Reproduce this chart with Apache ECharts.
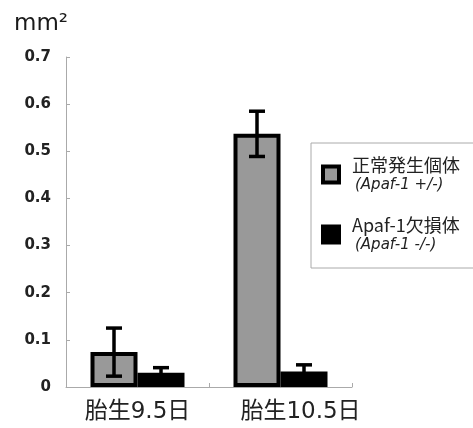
<!DOCTYPE html>
<html>
<head>
<meta charset="utf-8">
<script src="https://cdn.jsdelivr.net/npm/echarts@6/dist/echarts.min.js"></script>
<style>html,body{margin:0;padding:0;background:#fff;}#c{width:473px;height:428px;}</style>
</head>
<body>
<div id="c"></div>
<script>
const categories = ['胎生9.5日', '胎生10.5日'];
const seriesNames = ['正常発生個体', 'Apaf-1欠損体'];
const seriesSub = ['(Apaf-1 +/-)', '(Apaf-1 -/-)'];
const normalMean = [0.074, 0.537];
const normalErr = [0.051, 0.048];
const knockoutMean = [0.030, 0.033];
const knockoutErr = [0.011, 0.014];
const yTicks = [0, 0.1, 0.2, 0.3, 0.4, 0.5, 0.6, 0.7];

const BAR_W = 47;
const FONT = '"DejaVu Sans", "Noto Sans CJK JP", sans-serif';
const CJK = '"Noto Sans CJK JP", "DejaVu Sans", sans-serif';

function errData(mean, err) {
  return mean.map((m, i) => [i, m - err[i], m + err[i]]);
}
function errSeries(mean, err, offset) {
  return {
    type: 'custom',
    z: 10,
    data: errData(mean, err),
    encode: { x: 0, y: [1, 2] },
    renderItem: function (params, api) {
      const c = api.coord([api.value(0), 0]);
      const x = c[0] + offset;
      const lo = api.coord([api.value(0), api.value(1)])[1];
      const hi = api.coord([api.value(0), api.value(2)])[1];
      const hw = 8;
      const st = { stroke: '#000', lineWidth: 3.5 };
      return {
        type: 'group',
        children: [
          { type: 'line', shape: { x1: x, y1: lo, x2: x, y2: hi }, style: st },
          { type: 'line', shape: { x1: x - hw, y1: hi, x2: x + hw, y2: hi }, style: st },
          { type: 'line', shape: { x1: x - hw, y1: lo, x2: x + hw, y2: lo }, style: st }
        ]
      };
    }
  };
}

const chart = echarts.init(document.getElementById('c'));
chart.setOption({
  animation: false,
  backgroundColor: '#fff',
  title: {
    text: 'mm²',
    left: 14, top: 13, padding: 0,
    textStyle: { fontFamily: FONT, fontSize: 23, fontWeight: 'normal', color: '#1a1a1a' }
  },
  grid: { left: 66, top: 57, width: 286, bottom: 41 },
  legend: {
    orient: 'vertical',
    left: 311, top: 143,
    padding: [13, 40, 15, 10],
    itemGap: 23,
    itemWidth: 16, itemHeight: 16,
    borderColor: '#aaa', borderWidth: 1,
    backgroundColor: '#fff',
    data: [
      { name: seriesNames[0], icon: 'rect', itemStyle: { color: '#999', borderColor: '#000', borderWidth: 4 } },
      { name: seriesNames[1], icon: 'rect', itemStyle: { color: '#000', borderColor: '#000', borderWidth: 4 } }
    ],
    formatter: function (name) {
      const i = seriesNames.indexOf(name);
      return '{a|' + name + '}\n{b|' + seriesSub[i] + '}';
    },
    textStyle: {
      padding: [0, 0, 0, 8],
      rich: {
        a: { fontFamily: CJK, fontSize: 18, color: '#222', lineHeight: 22 },
        b: { fontFamily: FONT, fontSize: 15, fontStyle: 'italic', color: '#222', lineHeight: 19, padding: [0, 0, 0, 3] }
      }
    }
  },
  xAxis: {
    type: 'category',
    data: [categories[0], { value: categories[1], textStyle: { padding: [0, 0, 0, 40] } }],
    axisLine: { lineStyle: { color: '#aaa', width: 1 } },
    axisTick: { show: true, inside: true, length: 4, lineStyle: { color: '#aaa' } },
    axisLabel: { interval: 0, hideOverlap: false, margin: 14, fontFamily: FONT, fontSize: 23, color: '#222' }
  },
  yAxis: {
    type: 'value',
    min: yTicks[0], max: yTicks[yTicks.length - 1], interval: 0.1,
    axisLine: { show: true, lineStyle: { color: '#aaa', width: 1 } },
    axisTick: { show: true, inside: true, length: 4, lineStyle: { color: '#aaa' } },
    splitLine: { show: false },
    axisLabel: {
      margin: 15, fontFamily: FONT, fontSize: 15, fontWeight: 'bold', color: '#222',
      formatter: function (v) { return String(Math.round(v * 10) / 10); }
    }
  },
  series: [
    {
      name: seriesNames[0], type: 'bar', data: normalMean,
      barWidth: BAR_W, barGap: '0%',
      itemStyle: { color: '#999', borderColor: '#000', borderWidth: 4 }
    },
    {
      name: seriesNames[1], type: 'bar', data: knockoutMean,
      barWidth: BAR_W, barGap: '0%',
      itemStyle: { color: '#000', borderColor: '#000', borderWidth: 4 }
    },
    errSeries(normalMean, normalErr, -BAR_W / 2),
    errSeries(knockoutMean, knockoutErr, BAR_W / 2)
  ]
});
</script>
</body>
</html>
